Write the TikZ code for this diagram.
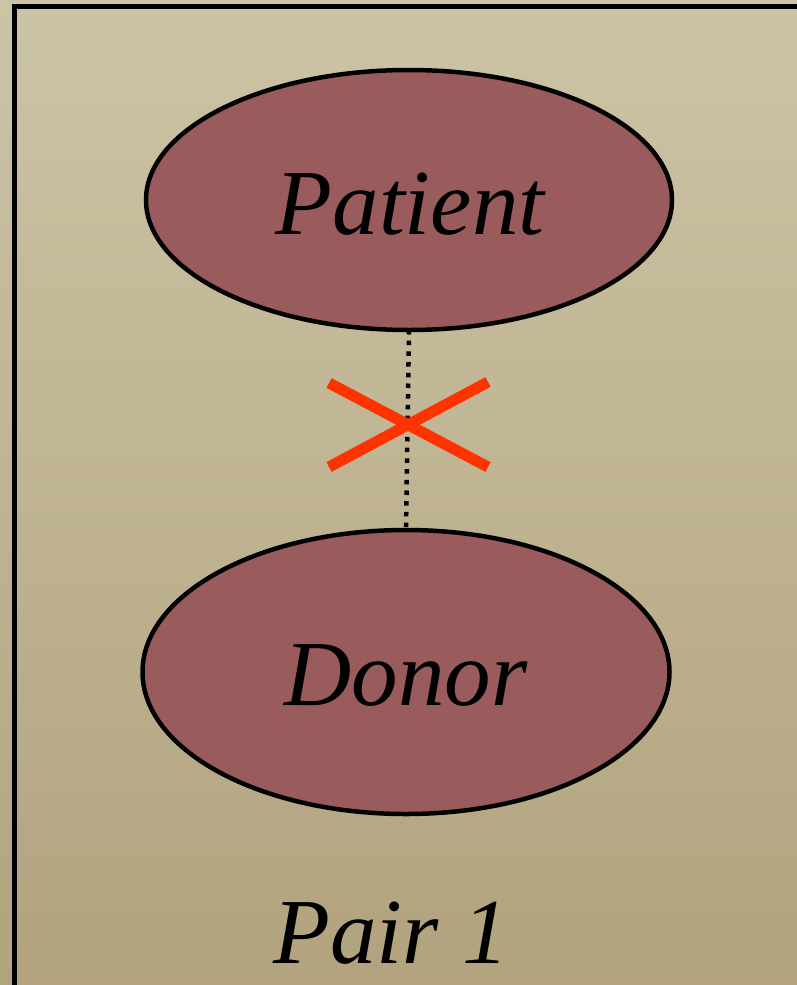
\documentclass[tikz,border=0pt]{standalone}
\usepackage{fontspec}
\setmainfont{Liberation Serif}
\usetikzlibrary{shapes.geometric}
\definecolor{bgtop}{HTML}{CCC4A6}
\definecolor{bgbot}{HTML}{B2A37E}
\definecolor{nodefill}{HTML}{9A5B5C}
\definecolor{crossred}{HTML}{FF3300}
\tikzset{
  pairnode/.style={ellipse, draw=black, line width=4.5pt, fill=nodefill, inner sep=0pt, outer sep=0pt},
  bigtext/.style={font=\fontsize{93}{100}\selectfont\itshape, inner sep=0pt, anchor=base, text=black},
  frameline/.style={line width=5pt, draw=black},
  dotline/.style={line width=4.5pt, draw=black, dash pattern=on 4.5pt off 6.2pt},
  crossline/.style={line width=11pt, draw=crossred}
}
\begin{document}
\begin{tikzpicture}[x=1pt,y=-1pt]
\shade[top color=bgtop, bottom color=bgbot] (0,0) rectangle (797,985);
\useasboundingbox (0,0) rectangle (797,985);
% frame
\coordinate (fr) at (797,6);
\coordinate (fc) at (14,6);
\coordinate (fb) at (14,985);
\draw[frameline] (fr) -- (fc) -- (fb);
% ellipses
\node[pairnode, minimum width=526pt, minimum height=260pt] (patient) at (409,200) {};
\node[pairnode, minimum width=527pt, minimum height=284pt] (donor) at (406,672) {};
% dotted connector
\draw[dotline] (patient.south) -- (donor.north);
% red cross
\coordinate (c1a) at (329,383);
\coordinate (c1b) at (488,467);
\coordinate (c2a) at (329,467);
\coordinate (c2b) at (488,382);
\draw[crossline] (c1a) -- (c1b);
\draw[crossline] (c2a) -- (c2b);
% labels
\node[bigtext] (patientlabel) at (410,234) {Patient};
\node[bigtext] (donorlabel) at (406,705) {Donor};
\node[bigtext] (pairlabel) at (391,963) {Pair 1};
\end{tikzpicture}
\end{document}
